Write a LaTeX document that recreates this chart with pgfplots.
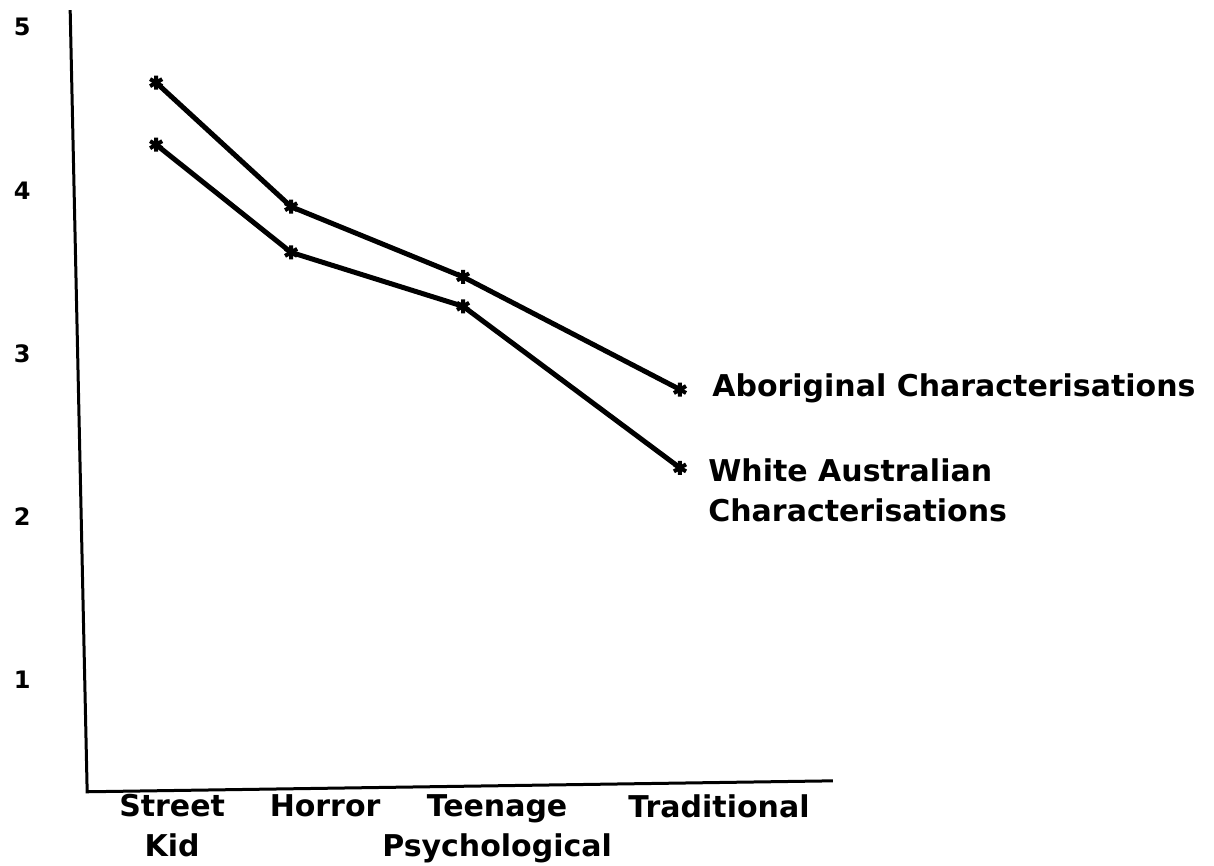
\documentclass[border=0pt]{standalone}
\usepackage{fontspec}
\setmainfont{DejaVu Sans}
\usepackage{pgfplots}
\pgfplotsset{compat=1.18}

% axis box covers the whole picture: x in pixels of the original, y in scale values
\begin{document}
\begin{tikzpicture}
\begin{axis}[
    scale only axis,
    width=607pt, height=432.5pt,
    xmin=0, xmax=1214,
    ymin=-0.132, ymax=5.165,
    clip=false,
    axis line style={draw=none},
    major tick length=0pt,
    xtick={172,325,497,719},
    xticklabels={{Street\\Kid},{Horror},{Teenage\\Psychological},{Traditional}},
    xticklabel style={align=center, anchor=north, inner sep=0pt, yshift=35.5pt,
        font=\fontsize{15}{20}\selectfont\bfseries},
    ytick={1,2,3,4,5},
    yticklabel style={anchor=center, inner sep=0pt, xshift=11pt,
        font=\fontsize{12}{14}\selectfont\bfseries},
    /pgf/number format/assume math mode=true,
]
    \path (rel axis cs:0,0) rectangle (rel axis cs:1,1);

    % hand drawn axes, slightly slanted as in the original
    \draw[line width=1.5pt] (axis cs:70,5.104) -- (axis cs:87,0.316) -- (axis cs:833,0.383);

    % Aboriginal characterisations
    \addplot[black, line width=2.5pt, mark=asterisk, mark size=3.5pt,
        mark options={line width=2pt}]
    coordinates {
        (156, 4.66)
        (291, 3.90)
        (463, 3.47)
        (680, 2.78)
    };

    % White Australian characterisations
    \addplot[black, line width=2.5pt, mark=asterisk, mark size=3.5pt,
        mark options={line width=2pt}]
    coordinates {
        (156, 4.28)
        (291, 3.62)
        (463, 3.29)
        (680, 2.30)
    };

    \node[anchor=west, inner sep=0pt, font=\fontsize{15}{20}\selectfont\bfseries]
        at (axis cs:712,2.789) {Aboriginal Characterisations};
    \node[anchor=west, align=left, inner sep=0pt, font=\fontsize{15}{20}\selectfont\bfseries]
        at (axis cs:708,2.165) {White Australian\\Characterisations};
\end{axis}
\end{tikzpicture}
\end{document}
